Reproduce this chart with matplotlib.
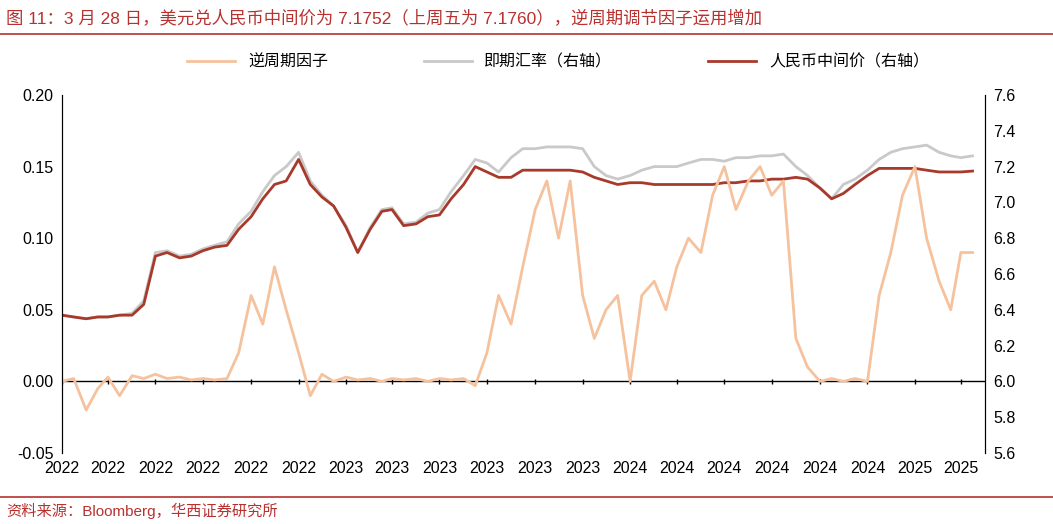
import numpy as np
import pandas as pd
import matplotlib.pyplot as plt

plt.rcParams["font.family"] = ["Liberation Sans", "Noto Sans CJK SC"]

# semi-monthly sample dates, Jan 2022 - Mar 2025
dates = [pd.Timestamp(y, m, d) for y in range(2022, 2026) for m in range(1, 13) for d in (1, 16)]
dates = dates[:78]

factor = [0.0, 0.002, -0.02, -0.005, 0.003, -0.01, 0.004, 0.002, 0.005, 0.002, 0.003, 0.001,
          0.002, 0.001, 0.002, 0.02, 0.06, 0.04, 0.08, 0.05, 0.02, -0.01, 0.005, 0.0,
          0.003, 0.001, 0.002, 0.0, 0.002, 0.001, 0.002, 0.0, 0.002, 0.001, 0.002, -0.003,
          0.02, 0.06, 0.04, 0.08, 0.12, 0.14, 0.10, 0.14, 0.06, 0.03, 0.05, 0.06,
          0.0, 0.06, 0.07, 0.05, 0.08, 0.10, 0.09, 0.13, 0.15, 0.12, 0.14, 0.15,
          0.13, 0.14, 0.03, 0.01, 0.0, 0.002, 0.0, 0.002, 0.0, 0.06, 0.09, 0.13,
          0.15, 0.10, 0.07, 0.05, 0.09, 0.09]

parity = [6.37, 6.36, 6.35, 6.36, 6.36, 6.37, 6.37, 6.43, 6.70, 6.72, 6.69, 6.70,
          6.73, 6.75, 6.76, 6.85, 6.92, 7.02, 7.10, 7.12, 7.24, 7.10, 7.03, 6.98,
          6.86, 6.72, 6.85, 6.95, 6.96, 6.87, 6.88, 6.92, 6.93, 7.02, 7.10, 7.20,
          7.17, 7.14, 7.14, 7.18, 7.18, 7.18, 7.18, 7.18, 7.17, 7.14, 7.12, 7.10,
          7.11, 7.11, 7.10, 7.10, 7.10, 7.10, 7.10, 7.10, 7.11, 7.11, 7.12, 7.12,
          7.13, 7.13, 7.14, 7.13, 7.08, 7.02, 7.05, 7.10, 7.15, 7.19, 7.19, 7.19,
          7.19, 7.18, 7.17, 7.17, 7.17, 7.175]

spot = [6.37, 6.36, 6.35, 6.36, 6.36, 6.37, 6.38, 6.45, 6.72, 6.73, 6.70, 6.71,
        6.74, 6.76, 6.78, 6.88, 6.95, 7.06, 7.15, 7.20, 7.28, 7.12, 7.04, 6.98,
        6.87, 6.72, 6.86, 6.96, 6.97, 6.88, 6.89, 6.94, 6.96, 7.06, 7.15, 7.24,
        7.22, 7.17, 7.25, 7.30, 7.30, 7.31, 7.31, 7.31, 7.30, 7.20, 7.15, 7.13,
        7.15, 7.18, 7.20, 7.20, 7.20, 7.22, 7.24, 7.24, 7.23, 7.25, 7.25, 7.26,
        7.26, 7.27, 7.20, 7.15, 7.08, 7.02, 7.10, 7.13, 7.18, 7.24, 7.28, 7.30,
        7.31, 7.32, 7.28, 7.26, 7.25, 7.26]

tick_dates = [pd.Timestamp(y, m, 1) for y in range(2022, 2026) for m in range(1, 13, 2)][:20]
tick_labels = [str(d.year) for d in tick_dates]

fig = plt.figure(figsize=(10.53, 5.24), dpi=100)
ax = fig.add_axes([0.0589, 0.1355, 0.8765, 0.6832])
ax2 = ax.twinx()

l1, = ax.plot(dates, factor, color="#f5c29d", lw=2, label="逆周期因子")
l2, = ax2.plot(dates, spot, color="#c9c9c9", lw=2, label="即期汇率（右轴）")
l3, = ax2.plot(dates, parity, color="#a83a2c", lw=2, label="人民币中间价（右轴）")
ax.set_zorder(ax2.get_zorder() + 1)
ax.patch.set_visible(False)

# zero line acts as the x axis
ax.axhline(0, color="black", lw=1, zorder=0)
ax.vlines(tick_dates, -0.002, 0.002, color="black", lw=1, zorder=0)

ax.set_ylim(-0.05, 0.20)
ax.set_yticks(np.arange(-0.05, 0.201, 0.05))
ax.set_yticklabels(["-0.05", "0.00", "0.05", "0.10", "0.15", "0.20"])
ax2.set_ylim(5.6, 7.6)
ax2.set_yticks(np.arange(5.6, 7.61, 0.2))
ax2.set_yticklabels([f"{v:.1f}" for v in np.arange(5.6, 7.61, 0.2)])
ax.set_xlim(pd.Timestamp(2022, 1, 1), pd.Timestamp(2025, 4, 1))
ax.set_xticks(tick_dates)
ax.set_xticklabels(tick_labels)

for a in (ax, ax2):
    a.tick_params(labelsize=11.5, length=0, pad=6)
    a.spines["top"].set_visible(False)
    a.spines["bottom"].set_visible(False)
    a.spines["left"].set_color("black")
    a.spines["right"].set_color("black")

fig.legend(handles=[l1, l2, l3], loc="center", bbox_to_anchor=(0.53, 0.882), ncol=3,
           frameon=False, fontsize=11.5, handlelength=3, columnspacing=6)

fig.text(0.006, 0.965, "图 11：3 月 28 日，美元兑人民币中间价为 7.1752（上周五为 7.1760），逆周期调节因子运用增加",
         color="#b8312f", fontsize=12.5, va="center")
fig.add_artist(plt.Line2D([0.0, 1.0], [0.935, 0.935], color="#b8312f", lw=1.2))
fig.add_artist(plt.Line2D([0.0, 1.0], [0.052, 0.052], color="#b8312f", lw=1.2))
fig.text(0.006, 0.025, "资料来源：Bloomberg，华西证券研究所", color="#b8312f", fontsize=11, va="center")

fig.savefig("out.png", dpi=100)
